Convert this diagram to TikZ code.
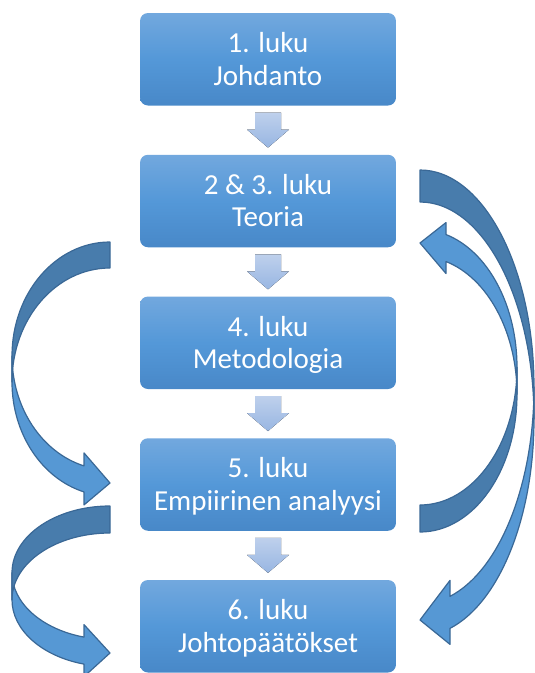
\documentclass[tikz,border=0pt]{standalone}
\usepackage{fontspec}
\setmainfont{Carlito}
\usetikzlibrary{calc}

\definecolor{boxtop}{RGB}{114,168,222}
\definecolor{boxmid}{RGB}{84,152,216}
\definecolor{boxbot}{RGB}{72,136,200}
\definecolor{steptop}{RGB}{190,208,236}
\definecolor{stepbot}{RGB}{152,182,226}
\definecolor{bandlight}{RGB}{86,152,212}
\definecolor{banddark}{RGB}{72,124,172}
\definecolor{bandline}{RGB}{58,104,150}

\tikzset{
  chapter/.style={rounded corners=8pt, minimum width=256pt, minimum height=92.5pt,
    inner sep=0pt, top color=boxtop, bottom color=boxbot, middle color=boxmid,
    text=white, align=center, font=\fontsize{29}{32.5}\selectfont},
  stepdown/.style={top color=steptop, bottom color=stepbot},
  bandfront/.style={fill=bandlight, draw=bandline, line width=1.2pt, line join=round},
  bandback/.style={fill=banddark, draw=bandline, line width=1.2pt, line join=round},
}

% uniform line box so every label sits at the same height in its box
\newcommand{\linestrut}{\rule[-5pt]{0pt}{29pt}}

% Twisted curved block arrow in local coordinates (y pointing down):
% tail at the top right corner (0,0), head at the lower right, pointing right.
% #1 half width of the bend, #2 band thickness, #3 head width, #4 head length, #5 height
\newcommand{\bentband}[5]{%
  \pgfmathsetmacro\bw{#1}%
  \pgfmathsetmacro\bth{#2}%
  \pgfmathsetmacro\baw{#3}%
  \pgfmathsetmacro\bah{#4}%
  \pgfmathsetmacro\bh{#5}%
  \pgfmathsetmacro\bhr{\bh/2-(\bth+\baw)/4}%
  \pgfmathsetmacro\byc{\bhr+\bth}%
  \pgfmathsetmacro\bdy{sqrt(1-(\bah/\bw)*(\bah/\bw))*\bhr}%
  \pgfmathsetmacro\byf{\bhr+\bdy}%
  \pgfmathsetmacro\byg{\byc+\bdy}%
  \pgfmathsetmacro\bdh{(\baw-\bth)/2}%
  \pgfmathsetmacro\bphi{acos(-\bah/\bw)}%
  \pgfmathsetmacro\btip{\bh-\baw/2}%
  \draw[bandfront] (-\bw,\bhr)
    arc[start angle=180, end angle=\bphi, x radius=\bw, y radius=\bhr]
    -- (-\bah,\byf-\bdh) -- (0,\btip) -- (-\bah,\byg+\bdh) -- (-\bah,\byg)
    arc[start angle=\bphi, end angle=180, x radius=\bw, y radius=\bhr] -- cycle;
  \draw[bandback] (-\bw,\byc)
    arc[start angle=180, end angle=270, x radius=\bw, y radius=\bhr]
    -- (0,0)
    arc[start angle=270, end angle=180, x radius=\bw, y radius=\bhr] -- cycle;
}

% Short downward step arrow centred on a point
\newcommand{\steparrow}[1]{%
  \fill[stepdown] ($#1+(-13,-17.5)$) -- ($#1+(13,-17.5)$) -- ($#1+(13,-0.5)$)
    -- ($#1+(21,-0.5)$) -- ($#1+(0,17.5)$) -- ($#1+(-21,-0.5)$)
    -- ($#1+(-13,-0.5)$) -- cycle;
}

\begin{document}
\begin{tikzpicture}[x=1pt, y=-1pt]
  \useasboundingbox (0,0) rectangle (535,673);

  % chapter boxes
  \node[chapter] (b1) at (268,59.25)  {\linestrut 1. luku\\\linestrut Johdanto};
  \node[chapter] (b2) at (268,201)    {\linestrut 2 \& 3. luku\\\linestrut Teoria};
  \node[chapter] (b3) at (268,342.75) {\linestrut 4. luku\\\linestrut Metodologia};
  \node[chapter] (b4) at (268,484.5)  {\linestrut 5. luku\\\linestrut Empiirinen analyysi};
  \node[chapter] (b5) at (268,626.25) {\linestrut 6. luku\\\linestrut Johtopäätökset};

  % steps between consecutive chapters
  \steparrow{($(b1.south)!0.5!(b2.north)$)}
  \steparrow{($(b2.south)!0.5!(b3.north)$)}
  \steparrow{($(b3.south)!0.5!(b4.north)$)}
  \steparrow{($(b4.south)!0.5!(b5.north)$)}

  % theory -> empirical analysis (left)
  \begin{scope}[shift={(110,242)}]
    \bentband{98}{26}{52}{26}{267}
  \end{scope}
  % empirical analysis -> theory (right, upwards)
  \begin{scope}[shift={(420,532)}, rotate=180]
    \bentband{97}{27}{51}{26}{314.5}
  \end{scope}
  % theory -> conclusions (right)
  \begin{scope}[shift={(420,170)}, xscale=-1]
    \bentband{114}{32}{64}{30}{482}
  \end{scope}
  % empirical analysis -> conclusions (left)
  \begin{scope}[shift={(110,506)}]
    \bentband{98}{27}{52}{26}{173}
  \end{scope}
\end{tikzpicture}
\end{document}
